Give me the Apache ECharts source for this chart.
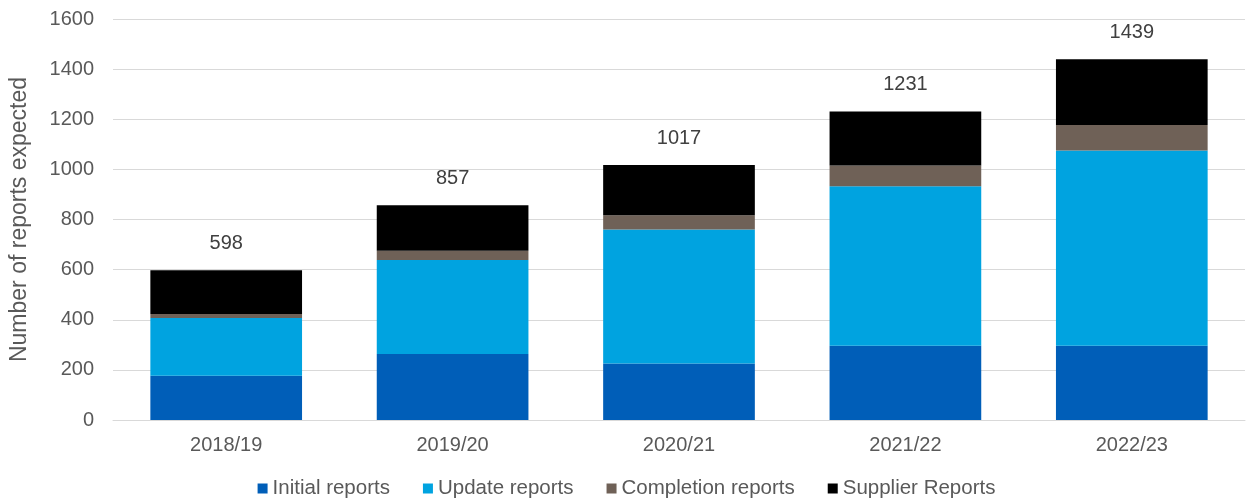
<!DOCTYPE html>
<html>
<head>
<meta charset="utf-8">
<script src="https://cdn.jsdelivr.net/npm/echarts@6/dist/echarts.min.js"></script>
<style>
  html, body { margin: 0; padding: 0; background: #ffffff; }
  #chart { width: 1253px; height: 500px; }
</style>
</head>
<body>
<div id="chart"></div>
<script>
// Financial years on the category axis
const years = ['2018/19', '2019/20', '2020/21', '2021/22', '2022/23'];

// Expected reports per year, by report type
const initialReports    = [177, 263, 225, 296, 296];
const updateReports     = [230, 375, 535, 637, 779];
const completionReports = [16, 37, 57, 82, 102];
const supplierReports   = [175, 182, 200, 216, 262];

// Value axis ticks
const yTicks = [0, 200, 400, 600, 800, 1000, 1200, 1400, 1600];

// Stack totals shown above each bar
const totals = years.map((_, i) =>
  initialReports[i] + updateReports[i] + completionReports[i] + supplierReports[i]);

const FONT = 'Liberation Sans, Arial, sans-serif';
const TEXT = '#595959';

const chart = echarts.init(document.getElementById('chart'), null, { renderer: 'canvas' });

function barSeries(name, data, color, extra) {
  return Object.assign({
    name: name,
    type: 'bar',
    stack: 'reports',
    data: data,
    barWidth: '67%',
    itemStyle: { color: color },
    emphasis: { disabled: true }
  }, extra || {});
}

chart.setOption({
  animation: false,
  textStyle: { fontFamily: FONT },
  grid: { left: 112, right: 8, top: 19, bottom: 80, containLabel: false },
  legend: {
    bottom: -4,
    left: 'center',
    itemWidth: 10,
    itemHeight: 10,
    itemGap: 33,
    icon: 'rect',
    textStyle: { color: TEXT, fontSize: 20.5, fontFamily: FONT, padding: [0, 0, 0, 0] },
    data: ['Initial reports', 'Update reports', 'Completion reports', 'Supplier Reports']
  },
  xAxis: {
    type: 'category',
    data: years,
    axisLine: { show: true, lineStyle: { color: '#d9d9d9', width: 1 } },
    axisTick: { show: false },
    axisLabel: { color: TEXT, fontSize: 20, margin: 15, fontFamily: FONT }
  },
  yAxis: {
    type: 'value',
    min: yTicks[0],
    max: yTicks[yTicks.length - 1],
    interval: yTicks[1] - yTicks[0],
    name: 'Number of reports expected',
    nameLocation: 'middle',
    nameGap: 82,
    nameRotate: 90,
    nameTextStyle: { color: TEXT, fontSize: 23, fontFamily: FONT },
    axisLine: { show: false },
    axisTick: { show: false },
    axisLabel: {
      color: TEXT, fontSize: 20, margin: 19, fontFamily: FONT,
      formatter: v => String(v)
    },
    splitLine: { lineStyle: { color: '#d9d9d9', width: 1 } }
  },
  series: [
    barSeries('Initial reports', initialReports, '#005EB8'),
    barSeries('Update reports', updateReports, '#00A3E0'),
    barSeries('Completion reports', completionReports, '#6F6157'),
    barSeries('Supplier Reports', supplierReports, '#000000', {
      label: {
        show: true,
        position: 'top',
        distance: 17,
        color: '#404040',
        fontSize: 20,
        fontFamily: FONT,
        formatter: p => String(totals[p.dataIndex])
      }
    })
  ]
});
</script>
</body>
</html>
